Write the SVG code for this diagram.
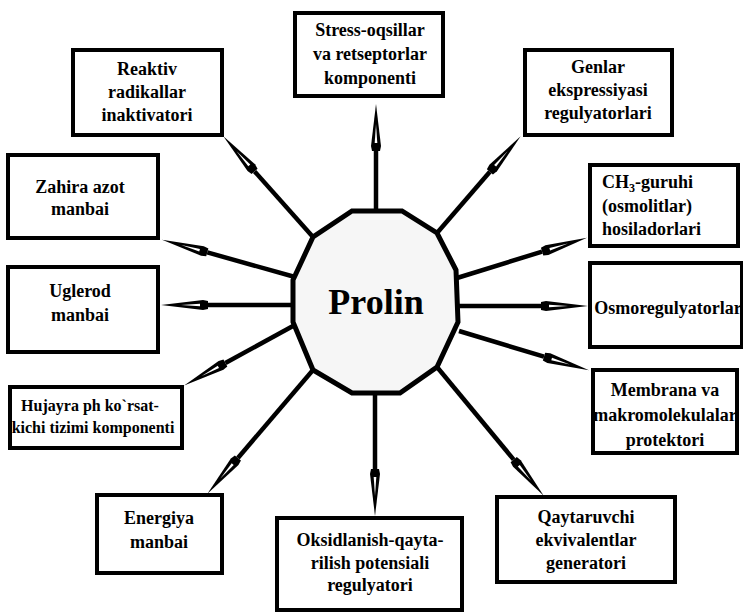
<svg xmlns="http://www.w3.org/2000/svg" width="743" height="613" viewBox="0 0 743 613">
<style>
.box{fill:#fff;stroke:#000;stroke-width:4}
text{font-family:'Liberation Serif',serif;font-weight:bold;fill:#000}
.t{font-size:18px;text-anchor:middle}
.l{font-size:18px;text-anchor:start}
.s{font-size:16px;text-anchor:middle}
.c{stroke:#000;stroke-width:4.5;fill:none;marker-end:url(#ah)}
</style>
<defs>
<marker id="ah" markerUnits="userSpaceOnUse" markerWidth="60" markerHeight="16" refX="0" refY="6" orient="auto" overflow="visible">
<path d="M0,2 L5,1 L47,6 L5,11 L0,10 Z" fill="#000"/>
<path d="M8,4.7 L27,6 L8,7.3 Z" fill="#fff"/>
</marker>
</defs>
<rect width="743" height="613" fill="#fff"/>
<g id="connectors">
<line class="c" x1="376" y1="212" x2="376" y2="151"/>
<line class="c" x1="313" y1="237" x2="254.6" y2="171.4"/>
<line class="c" x1="437" y1="233" x2="489.9" y2="171.8"/>
<line class="c" x1="295" y1="277" x2="207.3" y2="252.4"/>
<line class="c" x1="293" y1="305" x2="208" y2="305"/>
<line class="c" x1="458" y1="306" x2="541" y2="306"/>
<line class="c" x1="457" y1="278" x2="542.1" y2="251.6"/>
<line class="c" x1="293" y1="326" x2="225.4" y2="363"/>
<line class="c" x1="459" y1="331" x2="544" y2="356.7"/>
<line class="c" x1="313" y1="370" x2="237.9" y2="458"/>
<line class="c" x1="375" y1="393" x2="375" y2="469"/>
<line class="c" x1="437" y1="367" x2="513.7" y2="459.6"/>
</g>
<g id="node-prolin">
<polygon points="352,211 402,211 437,233 456,270 458,322 437,367 400,393 352,393 313,370 293,322 293,280 313,237" fill="#f6f6f6" stroke="#000" stroke-width="5"/>
<text x="376" y="314" style="font-size:36px;text-anchor:middle">Prolin</text>
</g>
<g id="node-stress">
<rect class="box" x="295" y="13" width="148" height="83"/>
<text class="t" x="370" y="36">Stress-oqsillar</text>
<text class="t" x="370" y="60">va retseptorlar</text>
<text class="t" x="370" y="84">komponenti</text>
</g>
<g id="node-reaktiv">
<rect class="box" x="73" y="50" width="149" height="85"/>
<text class="t" x="147" y="75">Reaktiv</text>
<text class="t" x="147" y="98">radikallar</text>
<text class="t" x="147" y="121">inaktivatori</text>
</g>
<g id="node-genlar">
<rect class="box" x="525" y="50" width="147" height="85"/>
<text class="t" x="598" y="73">Genlar</text>
<text class="t" x="598" y="96">ekspressiyasi</text>
<text class="t" x="598" y="119">regulyatorlari</text>
</g>
<g id="node-zahira">
<rect class="box" x="8" y="155" width="150" height="83"/>
<text class="t" x="80" y="193">Zahira azot</text>
<text class="t" x="80" y="215">manbai</text>
</g>
<g id="node-ch3">
<rect class="box" x="590" y="165" width="148" height="81"/>
<text class="l" x="602" y="188">CH<tspan dy="4" style="font-size:12px">3</tspan><tspan dy="-4">-guruhi</tspan></text>
<text class="l" x="602" y="212">(osmolitlar)</text>
<text class="l" x="602" y="235">hosiladorlari</text>
</g>
<g id="node-uglerod">
<rect class="box" x="8" y="267" width="150" height="85"/>
<text class="t" x="80" y="297">Uglerod</text>
<text class="t" x="80" y="321">manbai</text>
</g>
<g id="node-osmo">
<rect class="box" x="590" y="263" width="152" height="84"/>
<text class="t" x="668" y="314">Osmoregulyatorlar</text>
</g>
<g id="node-hujayra">
<rect class="box" x="10" y="387" width="172" height="61"/>
<text class="s" x="90" y="411">Hujayra ph ko`rsat-</text>
<text class="s" x="93" y="433">kichi tizimi komponenti</text>
</g>
<g id="node-membrana">
<rect class="box" x="593" y="370" width="144" height="83"/>
<text class="t" x="665" y="396">Membrana va</text>
<text class="t" x="665" y="421">makromolekulalar</text>
<text class="t" x="665" y="446">protektori</text>
</g>
<g id="node-energiya">
<rect class="box" x="97" y="495" width="125" height="78"/>
<text class="t" x="159" y="524">Energiya</text>
<text class="t" x="159" y="548">manbai</text>
</g>
<g id="node-oksidlanish">
<rect class="box" x="277" y="518" width="185" height="92"/>
<text class="t" x="370" y="546">Oksidlanish-qayta-</text>
<text class="t" x="370" y="569">rilish potensiali</text>
<text class="t" x="370" y="591">regulyatori</text>
</g>
<g id="node-qaytaruvchi">
<rect class="box" x="497" y="497" width="178" height="85"/>
<text class="t" x="586" y="523">Qaytaruvchi</text>
<text class="t" x="586" y="546">ekvivalentlar</text>
<text class="t" x="586" y="569">generatori</text>
</g>
</svg>
